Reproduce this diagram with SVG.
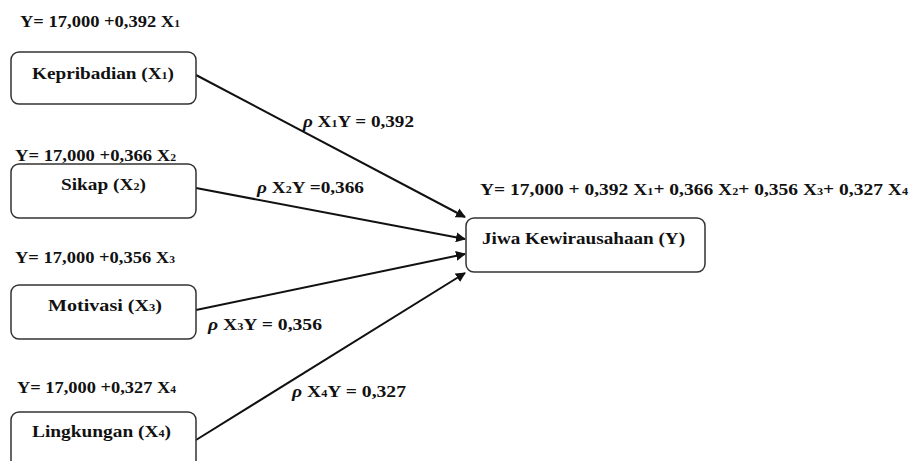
<svg xmlns="http://www.w3.org/2000/svg" width="912" height="461" viewBox="0 0 912 461" font-family="'Liberation Serif', 'Times New Roman', serif">
<defs>
<style>
text{font-family:'Liberation Serif','DejaVu Serif',serif;font-weight:bold;font-size:16px;fill:#111}
.s{font-size:10px}
.r{font-style:italic}
.box{fill:#fff;stroke:#333;stroke-width:1.5}
.c{stroke:#111;stroke-width:2;fill:none;marker-end:url(#ah)}
</style>
<marker id="ah" viewBox="0 0 10 10" refX="9" refY="5" markerWidth="5" markerHeight="5" orient="auto" markerUnits="strokeWidth">
<path d="M0,0 L10,5 L0,10 z" fill="#111"/>
</marker>
</defs>
<rect width="912" height="461" fill="#fff"/>
<g id="connectors">
<line class="c" x1="196" y1="75" x2="465" y2="217"/>
<line class="c" x1="196" y1="188" x2="465" y2="239"/>
<line class="c" x1="196" y1="310" x2="465" y2="254"/>
<line class="c" x1="196" y1="440" x2="465" y2="273"/>
<text x="303" y="127" textLength="111" lengthAdjust="spacingAndGlyphs"><tspan class="r">ρ</tspan> X<tspan class="s">1</tspan>Y = 0,392</text>
<text x="257" y="193" textLength="107" lengthAdjust="spacingAndGlyphs"><tspan class="r">ρ</tspan> X<tspan class="s">2</tspan>Y =0,366</text>
<text x="208" y="330" textLength="114" lengthAdjust="spacingAndGlyphs"><tspan class="r">ρ</tspan> X<tspan class="s">3</tspan>Y = 0,356</text>
<text x="292" y="397" textLength="114" lengthAdjust="spacingAndGlyphs"><tspan class="r">ρ</tspan> X<tspan class="s">4</tspan>Y = 0,327</text>
</g>
<g id="n1">
<text x="20" y="27" textLength="160" lengthAdjust="spacingAndGlyphs">Y= 17,000 +0,392 X<tspan class="s">1</tspan></text>
<rect class="box" x="11" y="52" width="185" height="52" rx="8"/>
<text x="32" y="79" textLength="142" lengthAdjust="spacingAndGlyphs">Kepribadian (X<tspan class="s">1</tspan>)</text>
</g>
<g id="n2">
<text x="15" y="161" textLength="161" lengthAdjust="spacingAndGlyphs">Y= 17,000 +0,366 X<tspan class="s">2</tspan></text>
<rect class="box" x="11" y="164" width="185" height="54" rx="8"/>
<text x="61" y="190" textLength="85" lengthAdjust="spacingAndGlyphs">Sikap  (X<tspan class="s">2</tspan>)</text>
</g>
<g id="n3">
<text x="15" y="263" textLength="160" lengthAdjust="spacingAndGlyphs">Y= 17,000 +0,356 X<tspan class="s">3</tspan></text>
<rect class="box" x="11" y="285" width="185" height="54" rx="8"/>
<text x="48" y="311" textLength="114" lengthAdjust="spacingAndGlyphs">Motivasi (X<tspan class="s">3</tspan>)</text>
</g>
<g id="n4">
<text x="17" y="393" textLength="159" lengthAdjust="spacingAndGlyphs">Y= 17,000 +0,327 X<tspan class="s">4</tspan></text>
<rect class="box" x="11" y="412" width="185" height="60" rx="8"/>
<text x="32" y="437" textLength="139" lengthAdjust="spacingAndGlyphs">Lingkungan (X<tspan class="s">4</tspan>)</text>
</g>
<g id="y">
<text x="480" y="195" textLength="428" lengthAdjust="spacingAndGlyphs">Y= 17,000 + 0,392 X<tspan class="s">1</tspan>+ 0,366 X<tspan class="s">2</tspan>+ 0,356 X<tspan class="s">3</tspan>+ 0,327 X<tspan class="s">4</tspan></text>
<rect class="box" x="466" y="218" width="239" height="54" rx="8"/>
<text x="482" y="244" textLength="203" lengthAdjust="spacingAndGlyphs">Jiwa Kewirausahaan  (Y)</text>
</g>
</svg>
